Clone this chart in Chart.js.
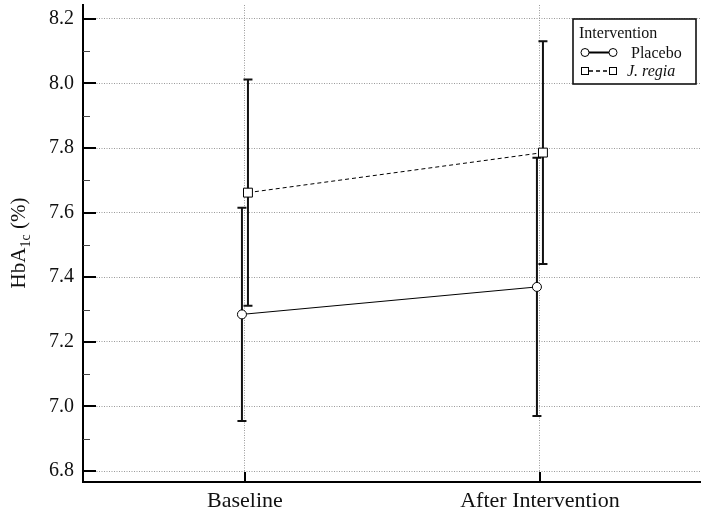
<!DOCTYPE html>
<html>
<head>
<meta charset="utf-8">
<script src="https://cdn.jsdelivr.net/npm/chart.js@4"></script>
<style>
  html, body { margin: 0; padding: 0; background: #fff; }
  #wrap { width: 701px; height: 513px; position: relative; }
</style>
</head>
<body>
<div id="wrap"><canvas id="c" width="701" height="513"></canvas></div>
<script>
// ---- data ----
const categories = ['Baseline', 'After Intervention'];
const seriesNames = ['Placebo', 'J. regia'];
const placeboMean = [7.285, 7.37];
const placeboSD = [0.33, 0.40];
const jregiaMean = [7.662, 7.786];
const jregiaSD = [0.35, 0.345];
const yTickValues = [6.8, 7.0, 7.2, 7.4, 7.6, 7.8, 8.0, 8.2];
const yTitle = ['HbA', '1c', ' (%)'];
const legendTitle = 'Intervention';

// ---- layout / style ----
const SERIF = '"Liberation Serif", "Times New Roman", serif';
const DODGE = 0.0102; // horizontal offset of the two groups (x units)
const catIdx = categories.map((_, i) => i);

function pts(means, shift) {
  return means.map((m, i) => ({ x: catIdx[i] + shift, y: m }));
}

const errorBarPlugin = {
  id: 'errorBars',
  beforeDatasetsDraw(chart) {
    const { ctx, scales: { x, y } } = chart;
    const groups = [
      { means: placeboMean, sd: placeboSD, shift: -DODGE },
      { means: jregiaMean, sd: jregiaSD, shift: DODGE }
    ];
    ctx.save();
    ctx.strokeStyle = '#111';
    ctx.lineWidth = 2;
    groups.forEach(g => {
      g.means.forEach((m, i) => {
        const px = x.getPixelForValue(catIdx[i] + g.shift);
        const top = y.getPixelForValue(m + g.sd[i]);
        const bot = y.getPixelForValue(m - g.sd[i]);
        ctx.beginPath();
        ctx.moveTo(px, top); ctx.lineTo(px, bot);
        ctx.moveTo(px - 4.5, top); ctx.lineTo(px + 4.5, top);
        ctx.moveTo(px - 4.5, bot); ctx.lineTo(px + 4.5, bot);
        ctx.stroke();
      });
    });
    ctx.restore();
  }
};

const axisTicksPlugin = {
  id: 'axisTicks',
  afterDraw(chart) {
    const { ctx, scales: { x, y }, chartArea } = chart;
    ctx.save();
    ctx.strokeStyle = '#000';
    ctx.lineWidth = 2;
    yTickValues.forEach(v => {
      const py = Math.round(y.getPixelForValue(v));
      ctx.beginPath(); ctx.moveTo(chartArea.left, py); ctx.lineTo(chartArea.left + 13, py); ctx.stroke();
    });
    ctx.lineWidth = 1;
    ctx.strokeStyle = '#444';
    for (let i = 0; i < yTickValues.length - 1; i++) {
      const v = (yTickValues[i] + yTickValues[i + 1]) / 2;
      const py = Math.round(y.getPixelForValue(v)) + 0.5;
      ctx.beginPath(); ctx.moveTo(chartArea.left, py); ctx.lineTo(chartArea.left + 7, py); ctx.stroke();
    }
    ctx.strokeStyle = '#000';
    ctx.lineWidth = 2;
    catIdx.forEach(v => {
      const px = Math.round(x.getPixelForValue(v));
      ctx.beginPath(); ctx.moveTo(px, chartArea.bottom); ctx.lineTo(px, chartArea.bottom - 10); ctx.stroke();
    });
    ctx.restore();
  }
};

const yTitlePlugin = {
  id: 'yTitle',
  afterDraw(chart) {
    const { ctx } = chart;
    ctx.save();
    ctx.translate(25, 243);
    ctx.rotate(-Math.PI / 2);
    ctx.fillStyle = '#111';
    ctx.textBaseline = 'alphabetic';
    const big = '21px ' + SERIF, small = '14px ' + SERIF;
    ctx.font = big; const w0 = ctx.measureText(yTitle[0]).width;
    ctx.font = small; const w1 = ctx.measureText(yTitle[1]).width;
    ctx.font = big; const w2 = ctx.measureText(yTitle[2]).width;
    let xx = -(w0 + w1 + w2) / 2;
    ctx.font = big; ctx.fillText(yTitle[0], xx, 0); xx += w0;
    ctx.font = small; ctx.fillText(yTitle[1], xx, 5); xx += w1;
    ctx.font = big; ctx.fillText(yTitle[2], xx, 0);
    ctx.restore();
  }
};

const legendPlugin = {
  id: 'customLegend',
  afterDraw(chart) {
    const { ctx } = chart;
    const L = 573, T = 19, R = 696, B = 84;
    ctx.save();
    ctx.fillStyle = '#fff';
    ctx.fillRect(L, T, R - L, B - T);
    ctx.strokeStyle = '#111';
    ctx.lineWidth = 1.6;
    ctx.strokeRect(L, T, R - L, B - T);
    ctx.fillStyle = '#111';
    ctx.textBaseline = 'alphabetic';
    ctx.font = '16px ' + SERIF;
    ctx.fillText(legendTitle, 579, 38);
    const y1 = 52.5, y2 = 71;
    const xa = 585, xb = 613;
    ctx.strokeStyle = '#000';
    ctx.lineWidth = 2;
    ctx.beginPath(); ctx.moveTo(xa + 4, y1); ctx.lineTo(xb - 4, y1); ctx.stroke();
    ctx.lineWidth = 1;
    [xa, xb].forEach(cx => {
      ctx.beginPath(); ctx.arc(cx, y1, 4, 0, Math.PI * 2);
      ctx.fillStyle = '#fff'; ctx.fill(); ctx.stroke();
    });
    ctx.fillStyle = '#111';
    ctx.font = '16px ' + SERIF;
    ctx.fillText(seriesNames[0], 631, 58);
    ctx.lineWidth = 1.5;
    ctx.setLineDash([4, 3]);
    ctx.beginPath(); ctx.moveTo(xa + 4, y2); ctx.lineTo(xb - 4, y2); ctx.stroke();
    ctx.setLineDash([]);
    ctx.lineWidth = 1;
    [xa, xb].forEach(cx => {
      ctx.fillStyle = '#fff';
      ctx.fillRect(cx - 3.5, y2 - 3.5, 7, 7);
      ctx.strokeRect(cx - 3.5, y2 - 3.5, 7, 7);
    });
    ctx.fillStyle = '#111';
    ctx.font = 'italic 16px ' + SERIF;
    ctx.fillText(seriesNames[1], 627, 76);
    ctx.restore();
  }
};

new Chart(document.getElementById('c'), {
  type: 'line',
  data: {
    datasets: [
      {
        label: seriesNames[0],
        data: pts(placeboMean, -DODGE),
        borderColor: '#000',
        borderWidth: 1,
        pointStyle: 'circle',
        pointRadius: 4.5,
        pointBorderWidth: 1,
        pointBackgroundColor: '#fff',
        pointBorderColor: '#000',
        tension: 0
      },
      {
        label: seriesNames[1],
        data: pts(jregiaMean, DODGE),
        borderColor: '#000',
        borderWidth: 1,
        borderDash: [4, 3],
        pointStyle: 'rect',
        pointRadius: 6.3,
        pointBorderWidth: 1,
        pointBackgroundColor: '#fff',
        pointBorderColor: '#000',
        tension: 0
      }
    ]
  },
  options: {
    responsive: false,
    animation: false,
    devicePixelRatio: 1,
    layout: { autoPadding: false, padding: { top: 5, right: 0, left: 0, bottom: 0 } },
    plugins: { legend: { display: false }, tooltip: { enabled: false } },
    scales: {
      x: {
        type: 'linear',
        min: -0.549,
        max: 1.546,
        afterBuildTicks(scale) { scale.ticks = catIdx.map(v => ({ value: v })); },
        afterFit(scale) { scale.height = 31; scale.paddingLeft = 0; scale.paddingRight = 0; },
        ticks: {
          callback: (v) => categories[v],
          font: { family: SERIF, size: 22 },
          color: '#111',
          padding: 6,
          maxRotation: 0,
          autoSkip: false
        },
        grid: { color: '#9a9a9a', lineWidth: 1, drawTicks: false },
        border: { display: true, color: '#000', width: 2, dash: [1, 1.5] }
      },
      y: {
        type: 'linear',
        min: 6.766,
        max: 8.243,
        afterBuildTicks(scale) { scale.ticks = yTickValues.map(v => ({ value: v })); },
        afterFit(scale) { scale.width = 83; scale.paddingTop = 0; scale.paddingBottom = 0; },
        ticks: {
          callback: (v) => v.toFixed(1),
          font: { family: SERIF, size: 20 },
          color: '#111',
          padding: 9
        },
        grid: { color: '#9a9a9a', lineWidth: 1, drawTicks: false },
        border: { display: true, color: '#000', width: 2, dash: [1, 1.5] }
      }
    }
  },
  plugins: [errorBarPlugin, axisTicksPlugin, yTitlePlugin, legendPlugin]
});
</script>
</body>
</html>
